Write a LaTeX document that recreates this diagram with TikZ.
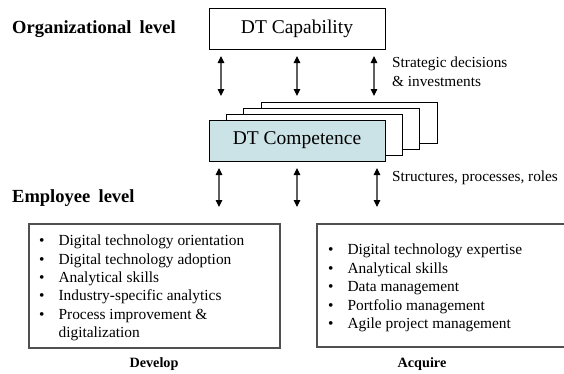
\documentclass[tikz,border=0pt]{standalone}
\usepackage{fontspec}
\setmainfont{Liberation Serif}
\usetikzlibrary{arrows.meta}
\definecolor{compfill}{RGB}{203,227,230}
\definecolor{shaft}{RGB}{95,95,95}
\definecolor{frame}{RGB}{80,80,80}
\begin{document}
\begin{tikzpicture}[x=1pt,y=-1pt,
  titlebox/.style={draw=black, line width=0.9pt, fill=white, minimum width=176pt,
    minimum height=41pt, inner sep=0pt, font=\fontsize{19.5}{22}\selectfont},
  sheet/.style={titlebox},
  level/.style={anchor=base west, inner sep=0pt, font=\fontsize{18.5}{20}\bfseries\selectfont},
  note/.style={anchor=base west, inner sep=0pt, font=\fontsize{15.3}{18}\selectfont},
  biarrow/.style={draw=shaft, line width=1.1pt,
    {Triangle[width=6.5pt,length=7pt,color=black]}-{Triangle[width=6.5pt,length=7pt,color=black]}},
  listbox/.style={draw=frame, line width=1.3pt, inner sep=0pt},
  bullets/.style={anchor=west, inner sep=0pt, font=\fontsize{15.4}{18.4}\selectfont},
  caption/.style={anchor=base, inner sep=0pt, font=\fontsize{14.2}{16}\bfseries\selectfont}]
\useasboundingbox (0,0) rectangle (564,373);
\clip (0,0) rectangle (564,373);

% level headings
\node[level] (orglvl) at (12,33) {Organizational\hspace{0.45em}level};
\node[level] (emplvl) at (12,202) {Employee\hspace{0.45em}level};

% organisational capability
\node[titlebox] (cap) at (297,29) {DT Capability};

% stack of competence sheets, back to front
\node[sheet] (s1) at (349,123) {};
\node[sheet] (s2) at (331.5,128.5) {};
\node[sheet] (s3) at (314,134.5) {};
\node[titlebox, fill=compfill] (comp) at (297,140.5) {DT Competence};

% arrow end points
\coordinate (u1a) at (221,56);  \coordinate (u1b) at (221,96);
\coordinate (u2a) at (297,56);  \coordinate (u2b) at (297,96);
\coordinate (u3a) at (374,56);  \coordinate (u3b) at (374,96);
\coordinate (d1a) at (219,168); \coordinate (d1b) at (219,207);
\coordinate (d2a) at (297,168); \coordinate (d2b) at (297,207);
\coordinate (d3a) at (377,168); \coordinate (d3b) at (377,207);

\draw[biarrow] (u1a) -- (u1b);
\draw[biarrow] (u2a) -- (u2b);
\draw[biarrow] (u3a) -- (u3b);
\draw[biarrow] (d1a) -- (d1b);
\draw[biarrow] (d2a) -- (d2b);
\draw[biarrow] (d3a) -- (d3b);

% arrow notes
\node[note] (strat1) at (392,67) {Strategic decisions};
\node[note] (strat2) at (392,86) {\& investments};
\node[note] (struct) at (392,181) {Structures, processes, roles};

% develop list
\node[listbox, minimum width=251pt, minimum height=124pt] (devbox) at (154.5,286) {};
\node[bullets] (devlist) at (39,288) {%
  \begin{tabular}{@{}l@{\hspace{14pt}}l@{}}
  \textbullet & Digital technology orientation\\
  \textbullet & Digital technology adoption\\
  \textbullet & Analytical skills\\
  \textbullet & Industry-specific analytics\\
  \textbullet & Process improvement \&\\
              & digitalization
  \end{tabular}};
\node[caption] (dev) at (154,367) {Develop};

% acquire list
\node[listbox, minimum width=251pt, minimum height=123pt] (acqbox) at (442.5,285.5) {};
\node[bullets] (acqlist) at (328,288) {%
  \begin{tabular}{@{}l@{\hspace{14pt}}l@{}}
  \textbullet & Digital technology expertise\\
  \textbullet & Analytical skills\\
  \textbullet & Data management\\
  \textbullet & Portfolio management\\
  \textbullet & Agile project management
  \end{tabular}};
\node[caption] (acq) at (422,367) {Acquire};
\end{tikzpicture}
\end{document}
